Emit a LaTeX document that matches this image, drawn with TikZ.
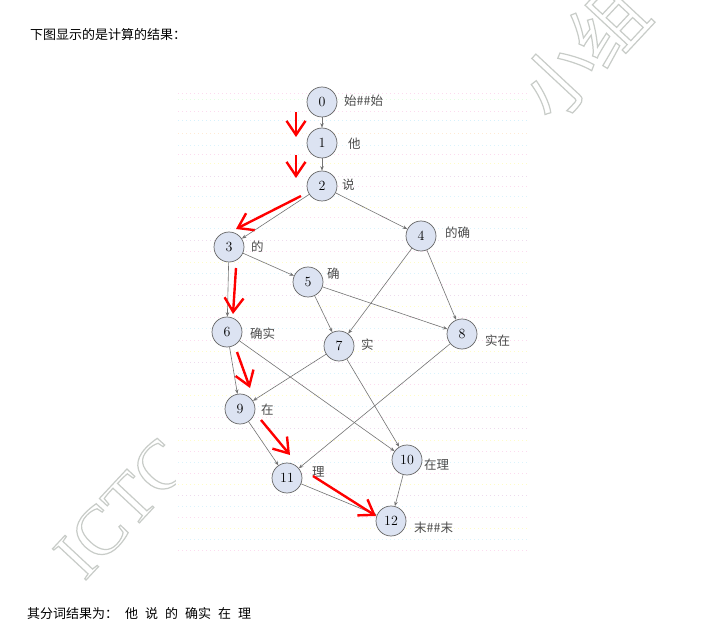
\documentclass[tikz,border=0pt]{standalone}
\usepackage{fontspec}
\newfontfamily\cjk{Noto Sans CJK SC}
\newfontfamily\wmfont{Liberation Serif}
\usetikzlibrary{arrows.meta}
\definecolor{nodefill}{HTML}{DCE3F2}
\definecolor{wmgray}{HTML}{C8CCC8}
\newcommand{\outlinetext}[1]{\special{pdf:literal direct 1 Tr 1.2 w}#1\special{pdf:literal direct 0 Tr}}
\begin{document}
\begin{tikzpicture}[x=1pt,y=-1pt,
  vtx/.style={circle, draw=black!60, line width=0.7pt, fill=nodefill, minimum size=30pt, inner sep=0pt, font=\fontsize{14}{14}\selectfont},
  lab/.style={font=\cjk\fontsize{12.5}{12.5}\selectfont, text=black!70, inner sep=0pt},
  edge/.style={draw=black!55, line width=0.6pt, -{Stealth[length=4.5pt,width=3.5pt]}},
  redpath/.style={draw=red, line width=2.4pt, -{Straight Barb[length=14pt,width=19pt]}},
  txt/.style={font=\cjk\fontsize{13}{13}\selectfont, inner sep=0pt, anchor=west},
  wm/.style={text=wmgray, inner sep=0pt, rotate=47},
  dotline/.style={line width=0.6pt, dash pattern=on 0.6pt off 3.4pt, opacity=0.55}
]
\useasboundingbox (0,0) rectangle (713,631);
\fill[white] (0,0) rectangle (713,631);

% watermark
\node[wm, font=\wmfont\fontsize{70}{70}\selectfont] (wm1) at (122,508) {\outlinetext{ICTC}};
\node[wm, font=\cjk\fontsize{74}{74}\selectfont] (wm2) at (583,52) {\outlinetext{小组}};

% graph image area
\fill[white] (176,86) rectangle (530,556);
\foreach \yy/\cc in {93/magenta!25,99/green!20,111/magenta!25,120/cyan!30,133/orange!30,145/cyan!25,154/magenta!25,163/yellow!40,176/violet!25,
  186/magenta!25,196/cyan!25,207/yellow!40,217/magenta!25,228/cyan!25,240/violet!25,251/magenta!25,262/yellow!40,273/cyan!25,284/magenta!25,
  295/violet!25,306/yellow!40,317/magenta!25,328/cyan!25,340/magenta!25,351/yellow!40,362/violet!25,373/cyan!25,384/magenta!25,395/yellow!40,
  406/cyan!25,417/magenta!25,428/violet!25,440/yellow!40,451/magenta!25,462/cyan!25,473/magenta!25,484/yellow!40,495/violet!25,506/cyan!25,
  517/magenta!25,528/yellow!40,539/cyan!25,550/magenta!25}
  \draw[dotline, \cc] (178,\yy) -- (528,\yy);

% nodes
\node[vtx] (n0) at (322,102) {0};
\node[vtx] (n1) at (322,143) {1};
\node[vtx] (n2) at (322,186) {2};
\node[vtx] (n3) at (229,247) {3};
\node[vtx] (n4) at (421,236) {4};
\node[vtx] (n5) at (308,282) {5};
\node[vtx] (n6) at (227,332) {6};
\node[vtx] (n7) at (339,346) {7};
\node[vtx] (n8) at (462,334) {8};
\node[vtx] (n9) at (240,409) {9};
\node[vtx] (n10) at (407,460) {10};
\node[vtx] (n11) at (287,478) {11};
\node[vtx] (n12) at (391,521) {12};

% labels
\node[lab, anchor=west] (l0) at (344,101) {始\#\#始};
\node[lab, anchor=west] (l1) at (348,144) {他};
\node[lab, anchor=west] (l2) at (342,185) {说};
\node[lab, anchor=west] (l3) at (251,247) {的};
\node[lab, anchor=west] (l4) at (445,233) {的确};
\node[lab, anchor=west] (l5) at (327,274) {确};
\node[lab, anchor=west] (l6) at (250,334) {确实};
\node[lab, anchor=west] (l7) at (361,345) {实};
\node[lab, anchor=west] (l8) at (485,341) {实在};
\node[lab, anchor=west] (l9) at (261,410) {在};
\node[lab, anchor=west] (l10) at (424,465) {在理};
\node[lab, anchor=west] (l11) at (312,472) {理};
\node[lab, anchor=west] (l12) at (414,528) {末\#\#末};

% edges
\draw[edge] (n0) -- (n1);
\draw[edge] (n1) -- (n2);
\draw[edge] (n2) -- (n3);
\draw[edge] (n2) -- (n4);
\draw[edge] (n3) -- (n5);
\draw[edge] (n3) -- (n6);
\draw[edge] (n4) -- (n7);
\draw[edge] (n4) -- (n8);
\draw[edge] (n5) -- (n7);
\draw[edge] (n5) -- (n8);
\draw[edge] (n6) -- (n9);
\draw[edge] (n6) -- (n10);
\draw[edge] (n7) -- (n9);
\draw[edge] (n7) -- (n10);
\draw[edge] (n8) -- (n11);
\draw[edge] (n9) -- (n11);
\draw[edge] (n10) -- (n12);
\draw[edge] (n11) -- (n12);

% red path arrows
\coordinate (r1s) at (296,112); \coordinate (r1e) at (296,137);
\coordinate (r2s) at (296,155); \coordinate (r2e) at (296,178);
\coordinate (r3s) at (301,196); \coordinate (r3e) at (236,229);
\coordinate (r4s) at (236,268); \coordinate (r4e) at (233,314);
\coordinate (r5s) at (237,352); \coordinate (r5e) at (250,388);
\coordinate (r6s) at (261,420); \coordinate (r6e) at (290,455);
\coordinate (r7s) at (313,476); \coordinate (r7e) at (376,516);
\draw[redpath] (r1s) -- (r1e);
\draw[redpath] (r2s) -- (r2e);
\draw[redpath] (r3s) -- (r3e);
\draw[redpath] (r4s) -- (r4e);
\draw[redpath] (r5s) -- (r5e);
\draw[redpath] (r6s) -- (r6e);
\draw[redpath] (r7s) -- (r7e);

% texts
\node[txt] (head) at (30,35) {下图显示的是计算的结果：};
\node[txt] (foot) at (27,614) {其分词结果为：\hspace{7pt}他\hspace{7pt}说\hspace{7pt}的\hspace{7pt}确实\hspace{7pt}在\hspace{7pt}理};
\end{tikzpicture}
\end{document}
